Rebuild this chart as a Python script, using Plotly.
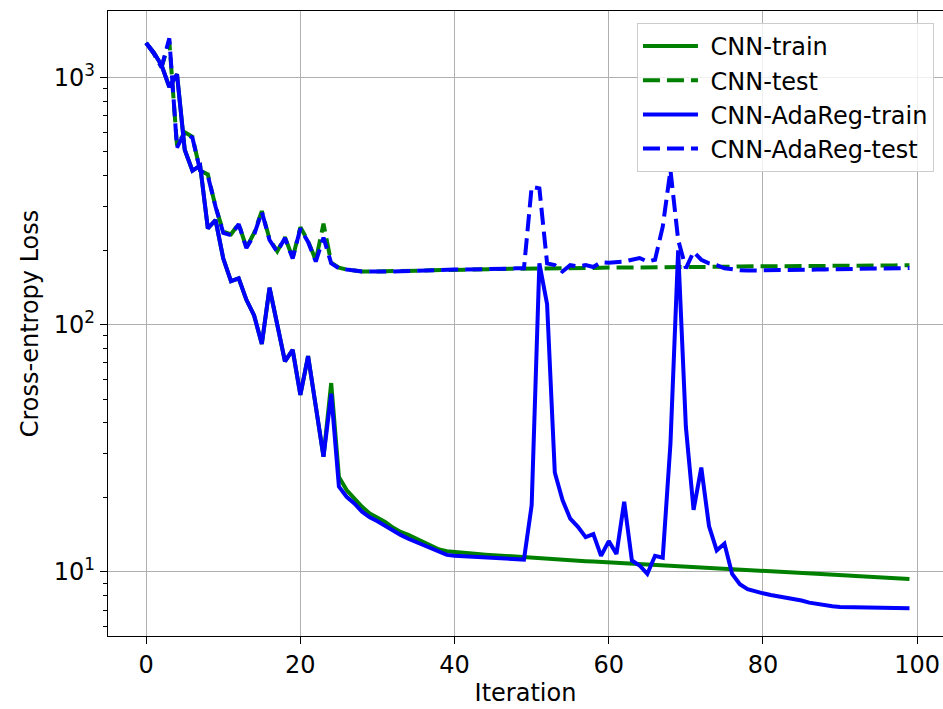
import plotly.graph_objects as go

iterations = list(range(100))

cnn_train = [1380, 1260, 1120, 915, 1030, 510, 420, 440, 245, 265,
             185, 150, 154, 126, 109, 83.4, 141, 101, 71, 79,
             52, 74.6, 46, 29.2, 58, 24.2, 21.4, 19.8, 18.3, 17.2,
             16.6, 15.9, 15.1, 14.5, 14.1, 13.6, 13.1, 12.7, 12.3, 12.1,
             12.0, 11.93, 11.87, 11.8, 11.73, 11.67, 11.6, 11.53, 11.47, 11.4,
             11.35, 11.3, 11.26, 11.21, 11.17, 11.12, 11.08, 11.03, 10.99, 10.95,
             10.9, 10.86, 10.82, 10.78, 10.74, 10.7, 10.66, 10.62, 10.58, 10.54,
             10.5, 10.46, 10.42, 10.38, 10.34, 10.3, 10.26, 10.22, 10.18, 10.14,
             10.1, 10.06, 10.02, 9.98, 9.94, 9.9, 9.86, 9.82, 9.78, 9.74,
             9.7, 9.66, 9.62, 9.58, 9.54, 9.5, 9.46, 9.42, 9.38, 9.34]

cnn_test = [1380, 1250, 1100, 1400, 530, 600, 575, 420, 405, 300,
            238, 232, 256, 205, 235, 288, 222, 198, 226, 186,
            248, 218, 182, 256, 178, 170, 167, 165, 164, 164,
            164, 164, 164.5, 164.5, 165, 165, 165.5, 166, 166, 166.5,
            166.5, 167, 167, 167, 167.5, 167.5, 168, 168, 168, 168.5,
            168.5, 168.5, 169, 169, 169, 169, 169.5, 169.5, 169.5, 170,
            170, 170, 170, 170.5, 170.5, 170.5, 170.5, 171, 171, 171,
            171, 171, 171.5, 171.5, 171.5, 171.5, 171.5, 172, 172, 172,
            172, 172, 172.5, 172.5, 172.5, 172.5, 172.5, 173, 173, 173,
            173, 173, 173, 173.5, 173.5, 173.5, 173.5, 173.5, 174, 174]

adareg_train = [1380, 1260, 1120, 915, 1030, 510, 420, 440, 245, 265,
                185, 150, 154, 126, 109, 83.4, 141, 101, 71, 79,
                52, 74.6, 46, 29.2, 52.5, 22.1, 20.1, 18.9, 17.5, 16.6,
                16.0, 15.3, 14.6, 14.1, 13.6, 13.2, 12.7, 12.4, 12.0, 11.7,
                11.6, 11.55, 11.5, 11.45, 11.4, 11.38, 11.35, 11.3, 11.25, 11.2,
                18.6, 177, 121, 25.2, 19.5, 16.4, 15.2, 13.8, 14.2, 11.6,
                13.3, 11.8, 19.2, 11.1, 10.6, 9.8, 11.6, 11.4, 33, 200,
                38.6, 17.8, 26.4, 15.3, 12.2, 13.0, 9.8, 8.9, 8.5, 8.3,
                8.18, 8.05, 7.95, 7.85, 7.8, 7.65, 7.5, 7.4, 7.3, 7.25,
                7.2, 7.19, 7.18, 7.17, 7.16, 7.15, 7.14, 7.13, 7.12, 7.11]

adareg_test = [1380, 1250, 1100, 1440, 520, 600, 570, 420, 400, 300,
               235, 230, 255, 204, 231, 286, 220, 197, 224, 185,
               245, 216, 180, 225, 177, 169, 167, 165, 164, 164,
               163.5, 163.5, 164, 164.5, 165, 165.5, 166, 167, 167, 167,
               167, 167, 167, 167.5, 168, 168, 168, 168.5, 169, 169,
               361, 356, 177, 174, 164, 174, 172, 174, 171, 179,
               178, 179, 180, 183, 186, 180, 183, 249, 422, 220,
               169, 197, 183, 177, 174, 169, 167, 166, 165.5, 165.5,
               165.5, 165.7, 166, 166.2, 166.4, 166.6, 166.8, 167, 167.2, 167.4,
               167.6, 167.8, 168, 168.2, 168.4, 168.6, 168.8, 169, 169.2, 169.5]

series_names = ["CNN-train", "CNN-test", "CNN-AdaReg-train", "CNN-AdaReg-test"]

y_tickvals = [10, 100, 1000]
y_ticktext = ["10<sup>1</sup>", "10<sup>2</sup>", "10<sup>3</sup>"]
y_minor = [6, 7, 8, 9, 20, 30, 40, 50, 60, 70, 80, 90,
           200, 300, 400, 500, 600, 700, 800, 900]
x_tickvals = [0, 20, 40, 60, 80, 100]

LW = 4
DASH = "17px,7px"
FONT = "DejaVu Sans"
FS = 24
PAD = "\u00a0"

fig = go.Figure()
fig.add_trace(go.Scatter(x=iterations, y=cnn_train, mode="lines", name=PAD + series_names[0],
                         line=dict(color="#008000", width=LW)))
fig.add_trace(go.Scatter(x=iterations, y=cnn_test, mode="lines", name=PAD + series_names[1],
                         line=dict(color="#008000", width=LW, dash=DASH)))
fig.add_trace(go.Scatter(x=iterations, y=adareg_train, mode="lines", name=PAD + series_names[2],
                         line=dict(color="#0000ff", width=LW)))
fig.add_trace(go.Scatter(x=iterations, y=adareg_test, mode="lines", name=PAD + series_names[3],
                         line=dict(color="#0000ff", width=LW, dash=DASH)))

fig.update_layout(
    width=943, height=709,
    margin=dict(l=108, r=0, t=11, b=73, pad=0, autoexpand=False),
    plot_bgcolor="white", paper_bgcolor="white",
    font=dict(family=FONT, size=FS, color="black"),
    showlegend=True,
    legend=dict(x=0.6335, y=0.981, xanchor="left", yanchor="top",
                bgcolor="rgba(255,255,255,0.8)", bordercolor="#cccccc", borderwidth=1,
                font=dict(family=FONT, size=FS, color="black"),
                itemwidth=55, tracegroupgap=0),
)
fig.update_xaxes(
    range=[-4.95, 103.35], tickvals=x_tickvals, automargin=False,
    showgrid=True, gridcolor="#b0b0b0", gridwidth=1.3,
    showline=True, linecolor="black", linewidth=1.4, mirror=True,
    ticks="outside", ticklen=7, tickwidth=1.4, tickcolor="black",
    zeroline=False,
    title=dict(text="Iteration", standoff=6, font=dict(size=FS)),
    tickfont=dict(size=FS),
)
fig.update_yaxes(
    type="log", range=[0.740, 3.269], automargin=False,
    tickvals=y_tickvals, ticktext=y_ticktext,
    showgrid=True, gridcolor="#b0b0b0", gridwidth=1.3,
    showline=True, linecolor="black", linewidth=1.4, mirror=False,
    ticks="outside", ticklen=7, tickwidth=1.4, tickcolor="black",
    minor=dict(tickvals=y_minor, ticks="outside", ticklen=4, tickwidth=1.1,
               tickcolor="black", showgrid=False),
    zeroline=False,
    title=dict(text="Cross-entropy Loss", standoff=8, font=dict(size=FS)),
    tickfont=dict(size=FS),
)

fig.write_html("out.html", config={"displayModeBar": False},
               post_script="document.body.style.margin='0px';")
